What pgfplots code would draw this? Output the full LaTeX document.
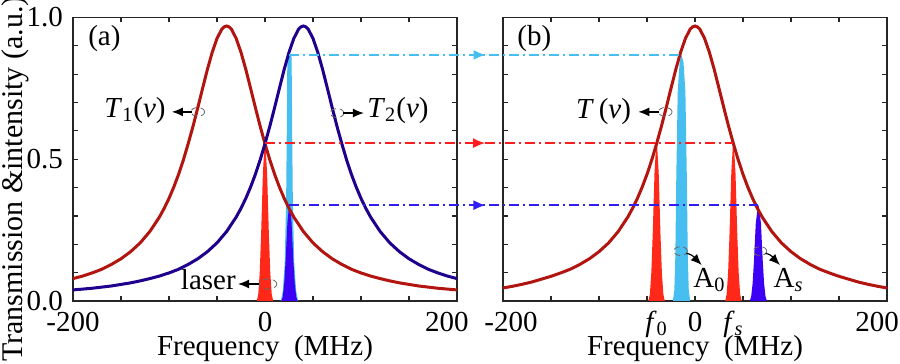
\documentclass[border=0pt]{standalone}
\usepackage{pgfplots}
\pgfplotsset{compat=1.18}
\usepackage{fontspec}
\setmainfont{Liberation Serif}
\usetikzlibrary{arrows.meta,decorations.markings}
\definecolor{cRed}{RGB}{178,20,16}
\definecolor{cNavy}{RGB}{30,0,140}
\definecolor{bRed}{RGB}{255,40,25}
\definecolor{bCyan}{RGB}{70,190,240}
\definecolor{bBlue}{RGB}{60,0,245}
\definecolor{dRed}{RGB}{255,30,30}
\definecolor{dBlue}{RGB}{50,30,240}
\definecolor{dCyan}{RGB}{70,190,240}
\tikzset{
  ann/.style={-{Latex[length=5.5pt,width=4.5pt]}, line width=0.6pt, black},
  ell/.style={densely dashed, black!60, line width=0.4pt},
  dd/.style={line width=0.9pt, dash pattern=on 5pt off 2pt on 1pt off 2pt},
}
\pgfplotsset{
  panel/.style={
    scale only axis, width=192pt, height=141.75pt, anchor=south west,
    xmin=-200, xmax=200, ymin=0, ymax=1,
    xtick={-200,-150,-100,-50,0,50,100,150,200},
    ytick={0,0.1,0.2,0.3,0.4,0.5,0.6,0.7,0.8,0.9,1},
    tick align=inside, major tick length=2.5pt,
    axis line style={line width=0.6pt, black!85},
    every tick/.style={black!85, line width=0.6pt},
    xticklabel style={anchor=base, yshift=-15.3pt},
    xlabel={Frequency\ \ (MHz)},
    xlabel style={at={(axis description cs:0.5,0)}, anchor=center, yshift=-23.8pt},
    clip=false,
  },
}
\begin{document}
\fontsize{14.5}{17}\selectfont
\begin{tikzpicture}
\useasboundingbox (0pt,0pt) rectangle (450pt,182pt);
% ---------- left panel ----------
\begin{axis}[panel, at={(36.5pt,31.5pt)},
  xticklabels={-200,,,,0,,,,\hspace*{-10pt}200},
  yticklabels={0.0,,,,,0.5,,,,,1.0}]
\addplot[fill=bCyan, draw=none] coordinates {(16.5,0) (18.5,0.035) (20.5,0.13) (22,0.35) (22.7,0.6) (23.3,0.868) (27.7,0.868) (28.3,0.6) (29,0.35) (30.5,0.13) (32.5,0.035) (34.5,0)} -- cycle;
\addplot[fill=bBlue, draw=none] coordinates {(17,0) (18.5,0.015) (20,0.061) (21.5,0.145) (23.3,0.274) (24.9,0.331) (25.5,0.338) (26.1,0.331) (27.7,0.274) (29.5,0.145) (31,0.061) (32.5,0.015) (34,0)} -- cycle;
\addplot[fill=bRed, draw=none] coordinates {(-8.5,0) (-7,0.025) (-5.5,0.1) (-4,0.24) (-2.2,0.451) (-0.6,0.546) (0,0.557) (0.6,0.546) (2.2,0.451) (4,0.24) (5.5,0.1) (7,0.025) (8.5,0)} -- cycle;
\addplot[cRed, line width=1.5pt] coordinates {
(-200,0.079) (-190,0.088) (-180,0.099) (-170,0.112) (-160,0.129) (-150,0.149) (-140,0.174) (-130,0.205) (-120,0.245) (-110,0.296) (-105,0.327) (-100,0.362) (-95,0.402) (-90,0.447) (-85,0.498) (-80,0.555) (-75,0.616) (-70,0.682) (-65,0.750) (-60,0.817) (-55,0.877) (-50,0.926) (-45,0.959) (-42.5,0.967) (-40,0.970) (-37.5,0.967) (-35,0.959) (-30,0.926) (-25,0.877) (-20,0.817) (-15,0.750) (-10,0.682) (-5,0.616) (0,0.555) (5,0.498) (10,0.447) (15,0.402) (20,0.362) (25,0.327) (30,0.296) (40,0.245) (50,0.205) (60,0.174) (70,0.149) (80,0.129) (90,0.112) (100,0.099) (110,0.088) (120,0.079) (130,0.071) (140,0.064) (160,0.053) (180,0.045) (200,0.039)};
\addplot[cNavy, line width=1.5pt] coordinates {
(-200,0.039) (-180,0.045) (-160,0.053) (-140,0.064) (-130,0.071) (-120,0.079) (-110,0.088) (-100,0.099) (-90,0.112) (-80,0.129) (-70,0.149) (-60,0.174) (-50,0.205) (-40,0.245) (-30,0.296) (-25,0.327) (-20,0.362) (-15,0.402) (-10,0.447) (-5,0.498) (0,0.555) (5,0.616) (10,0.682) (15,0.750) (20,0.817) (25,0.877) (30,0.926) (35,0.959) (37.5,0.967) (40,0.970) (42.5,0.967) (45,0.959) (50,0.926) (55,0.877) (60,0.817) (65,0.750) (70,0.682) (75,0.616) (80,0.555) (85,0.498) (90,0.447) (95,0.402) (100,0.362) (105,0.327) (110,0.296) (120,0.245) (130,0.205) (140,0.174) (150,0.149) (160,0.129) (170,0.112) (180,0.099) (190,0.088) (200,0.079)};
\coordinate (cL) at (axis cs:25.5,0.868);
\coordinate (rL) at (axis cs:0,0.557);
\coordinate (bL) at (axis cs:25.5,0.338);
\node[anchor=base west, inner sep=0] at (axis cs:-184.5,0.90) {(a)};
\node[anchor=base, inner sep=0] at (axis cs:-135.4,0.649) {\textit{T}\textsubscript{1}(\textit{ν})};
\draw[ell] (axis cs:-70,0.667) ellipse [x radius=3.4pt, y radius=2.2pt];
\draw[ann] (axis cs:-76.5,0.667) -- (axis cs:-97,0.667);
\node[anchor=base, inner sep=0] at (axis cs:138.5,0.649) {\textit{T}\textsubscript{2}(\textit{ν})};
\draw[ell] (axis cs:75,0.663) ellipse [x radius=3.4pt, y radius=2.2pt];
\draw[ann] (axis cs:81.5,0.663) -- (axis cs:103,0.663);
\node[anchor=base, inner sep=0] at (axis cs:-59,0.039) {laser};
\draw[ell] (axis cs:3,0.06) ellipse [x radius=4.5pt, y radius=2.5pt];
\draw[ann] (axis cs:-6.5,0.06) -- (axis cs:-28,0.06);
\end{axis}
% ---------- right panel ----------
\begin{axis}[panel, at={(251.5pt,31.5pt)},
  xticklabels={-200\hspace*{-8pt},,,,0,,,,\hspace*{-10pt}200},
  yticklabels={},
  extra x ticks={-40,40},
  extra x tick labels={\textit{f}\textsubscript{0},\textit{f}\textsubscript{\textit{s}}},
  extra x tick style={major tick length=0pt}]
\addplot[fill=bRed, draw=none] coordinates {(-48.5,0) (-47,0.025) (-45.5,0.1) (-44,0.24) (-42.2,0.451) (-40.6,0.546) (-40,0.557) (-39.4,0.546) (-37.8,0.451) (-36,0.24) (-34.5,0.1) (-33,0.025) (-31.5,0)} -- cycle;
\addplot[fill=bCyan, draw=none] coordinates {(-23,0) (-21.5,0.039) (-20.5,0.156) (-19.5,0.434) (-18,0.738) (-16,0.842) (-14,0.868) (-12,0.842) (-10,0.738) (-8.5,0.434) (-7.5,0.156) (-6.5,0.039) (-5,0)} -- cycle;
\addplot[fill=bRed, draw=none] coordinates {(31.5,0) (33,0.025) (34.5,0.1) (36,0.24) (37.8,0.451) (39.4,0.546) (40,0.557) (40.6,0.546) (42.2,0.451) (44,0.24) (45.5,0.1) (47,0.025) (48.5,0)} -- cycle;
\addplot[fill=bBlue, draw=none] coordinates {(57,0) (58.5,0.015) (60,0.061) (61.5,0.145) (63.3,0.274) (65.4,0.331) (66,0.338) (66.6,0.331) (68.7,0.274) (70.5,0.145) (72,0.061) (73.5,0.015) (75,0)} -- cycle;
\addplot[cRed, line width=1.5pt] coordinates {
(-200,0.046) (-190,0.052) (-180,0.059) (-170,0.067) (-160,0.077) (-150,0.087) (-140,0.099) (-130,0.112) (-120,0.129) (-110,0.149) (-100,0.174) (-90,0.205) (-80,0.245) (-70,0.296) (-65,0.327) (-60,0.362) (-55,0.402) (-50,0.447) (-45,0.498) (-40,0.555) (-35,0.616) (-30,0.682) (-25,0.750) (-20,0.817) (-15,0.877) (-10,0.926) (-5,0.959) (-2.5,0.967) (0,0.970) (2.5,0.967) (5,0.959) (10,0.926) (15,0.877) (20,0.817) (25,0.750) (30,0.682) (35,0.616) (40,0.555) (45,0.498) (50,0.447) (55,0.402) (60,0.362) (65,0.327) (70,0.296) (80,0.245) (90,0.205) (100,0.174) (110,0.149) (120,0.129) (130,0.112) (140,0.099) (150,0.087) (160,0.077) (170,0.067) (180,0.059) (190,0.052) (200,0.046)};
\coordinate (cR) at (axis cs:-14,0.868);
\coordinate (rR) at (axis cs:40,0.557);
\coordinate (bR) at (axis cs:66,0.338);
\node[anchor=base west, inner sep=0] at (axis cs:-185.4,0.90) {(b)};
\node[anchor=base, inner sep=0] at (axis cs:-95.3,0.645) {\textit{T}\,(\textit{ν})};
\draw[ell] (axis cs:-31,0.667) ellipse [x radius=3.4pt, y radius=2.2pt];
\draw[ann] (axis cs:-37.5,0.667) -- (axis cs:-59,0.667);
\draw[ell] (axis cs:-15,0.176) ellipse [x radius=3.4pt, y radius=2.2pt];
\draw[ann] (axis cs:-9,0.168) to[out=-10,in=135] (axis cs:7,0.127);
\node[anchor=base west, inner sep=0] at (axis cs:-2,0.049) {A\textsubscript{0}};
\draw[ell] (axis cs:67.7,0.176) ellipse [x radius=3.4pt, y radius=2.2pt];
\draw[ann] (axis cs:73.5,0.168) to[out=-10,in=135] (axis cs:88.5,0.127);
\node[anchor=base west, inner sep=0] at (axis cs:81.6,0.049) {A\textsubscript{\textit{s}}};
\end{axis}
% ---------- dash-dot connectors ----------
\draw[dd, dCyan, postaction={decorate}, decoration={markings, mark=at position 0.50 with {\arrow{Latex[length=6pt,width=5pt]}}}] (cL) -- (cR);
\draw[dd, dRed, postaction={decorate}, decoration={markings, mark=at position 0.47 with {\arrow{Latex[length=6pt,width=5pt]}}}] (rL) -- (rR);
\draw[dd, dBlue, postaction={decorate}, decoration={markings, mark=at position 0.418 with {\arrow{Latex[length=6pt,width=5pt]}}}] (bL) -- (bR);
\node[rotate=90, anchor=base, inner sep=0, font=\fontsize{15}{17}\selectfont] at (11.5pt,92.5pt) {Transmission \&intensity (a.u.)};
\end{tikzpicture}
\end{document}
